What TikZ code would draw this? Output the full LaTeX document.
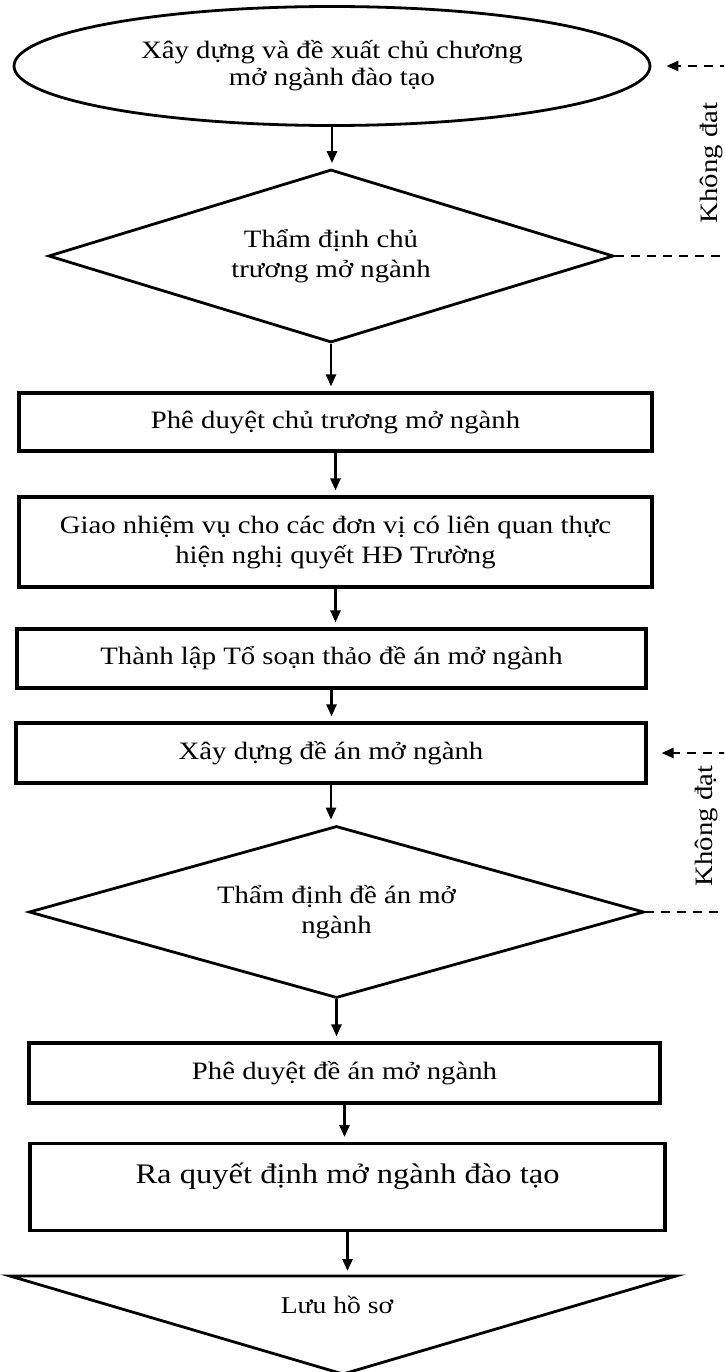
\documentclass[tikz,border=0pt]{standalone}
\usepackage{fontspec}
\setmainfont[FakeStretch=1.15]{Liberation Serif}
\usetikzlibrary{shapes.geometric,arrows.meta}

\begin{document}
\begin{tikzpicture}[x=1pt,y=-1pt]
    \tikzstyle{every node} = [font=\fontsize{25}{30}\selectfont]
    \tikzstyle{block} = [draw, rectangle, line width=3.2pt, inner sep=0pt, minimum height=60pt, align=center]
    \tikzstyle{decision} = [draw, diamond, line width=2.8pt, inner sep=0pt, align=center]
    \tikzstyle{flow} = [-{Triangle[length=12pt,width=10pt]}, line width=2.6pt, shorten >=5pt]
    \tikzstyle{retry} = [-{Triangle[length=12pt,width=10pt]}, line width=2.6pt, dash pattern=on 9pt off 7pt]
    \useasboundingbox (0,0) rectangle (724,1372);
    \clip (0,0) rectangle (724,1372);

    % place nodes
    \node[draw, ellipse, line width=2.8pt, minimum width=636pt, minimum height=119pt, inner sep=0pt, align=center]
        (proposeStep) at (332,66) {Xây dựng và đề xuất chủ chương\\[-3pt]mở ngành đào tạo};
    \node[decision, aspect=3.27, minimum width=565pt, minimum height=173pt] (reviewPolicy) at (331,256) {Thẩm định chủ\\trương mở ngành};
    \node[block, minimum width=633pt, minimum height=58pt] (approvePolicy) at (335.5,422) {Phê duyệt chủ trương mở ngành};
    \node[block, minimum width=633pt, minimum height=90pt] (assignTasks) at (335.5,542)
        {Giao nhiệm vụ cho các đơn vị có liên quan thực\\hiện nghị quyết HĐ Trường};
    \node[block, minimum width=629pt, minimum height=59pt] (formTeam) at (331.5,658.5) {Thành lập Tổ soạn thảo đề án mở ngành};
    \node[block, minimum width=630pt] (buildProject) at (331,753) {Xây dựng đề án mở ngành};
    \node[decision, aspect=3.58, minimum width=615pt, minimum height=172pt] (reviewProject) at (336.5,912) {Thẩm định đề án mở\\ngành};
    \node[block, minimum width=631pt] (approveProject) at (344.5,1073) {Phê duyệt đề án mở ngành};
    \node[block, minimum width=635pt, minimum height=0pt, text height=40pt, text depth=47pt, anchor=north,
        font=\fontsize{28.3}{30}\selectfont] (issueDecision) at (347.5,1142) {Ra quyết định mở ngành đào tạo};

    % archive symbol
    \draw[line width=2.8pt] (10,1276) -- (676,1276) -- (343,1374) -- cycle;
    \coordinate (archiveTop) at (343,1276);
    \node[font=\fontsize{24}{30}\selectfont] (archiveText) at (337,1305) {Lưu hồ sơ};

    % loop labels
    \node[rotate=90] (failLabelA) at (711,163) {Không đat};
    \node[rotate=90] (failLabelB) at (706,826) {Không đạt};

    % Connections
    \draw[flow] (proposeStep.south) -- (proposeStep.south |- reviewPolicy.north);
    \draw[flow] (reviewPolicy.south) -- (reviewPolicy.south |- approvePolicy.north);
    \draw[flow] (approvePolicy.south) -- (approvePolicy.south |- assignTasks.north);
    \draw[flow] (assignTasks.south) -- (assignTasks.south |- formTeam.north);
    \draw[flow] (formTeam.south) -- (formTeam.south |- buildProject.north);
    \draw[flow] (buildProject.south) -- (buildProject.south |- reviewProject.north);
    \draw[flow] (reviewProject.south) -- (reviewProject.south |- approveProject.north);
    \draw[flow] (approveProject.south) -- (approveProject.south |- issueDecision.north);
    \draw[flow] (issueDecision.south) -- (issueDecision.south |- archiveTop);

    \draw[retry] (reviewPolicy.east) -- ++(130,0) |- ([xshift=15pt]proposeStep.east);
    \draw[retry] (reviewProject.east) -- ++(90,0) |- ([xshift=14pt]buildProject.east);

\end{tikzpicture}
\end{document}
